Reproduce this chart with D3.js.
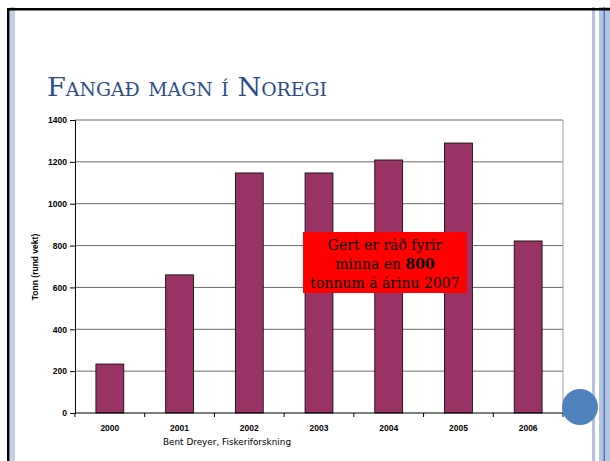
<!DOCTYPE html>
<html><head><meta charset="utf-8">
<script src="https://cdn.jsdelivr.net/npm/d3@7"></script>
<style>body{margin:0;background:#fff;}svg{display:block;}</style>
</head><body>
<script>
const years = ["2000","2001","2002","2003","2004","2005","2006"];
const catch_t = [234, 660, 1147, 1147, 1209, 1290, 822];
const yTicks = [0,200,400,600,800,1000,1200,1400];

const W=610,H=461;
const svg=d3.select("body").append("svg").attr("width",W).attr("height",H);

// slide frame
svg.append("rect").attr("x",10).attr("y",7).attr("width",5).attr("height",H).attr("fill","#c5d0e6");
svg.append("rect").attr("x",592).attr("y",7).attr("width",3).attr("height",H).attr("fill","#b4c3df");
svg.append("rect").attr("x",599).attr("y",7).attr("width",11).attr("height",H).attr("fill","#b4c3df");
svg.append("rect").attr("x",603.5).attr("y",7).attr("width",1.5).attr("height",H).attr("fill","#4a7cc4");
svg.append("rect").attr("x",7).attr("y",8).attr("width",603).attr("height",2.5).attr("fill","#000");
svg.append("rect").attr("x",7).attr("y",8).attr("width",2.5).attr("height",H).attr("fill","#000");

// title
svg.append("text").attr("x",47).attr("y",96)
  .attr("font-family","DejaVu Serif").attr("font-size",26)
  .style("font-variant","small-caps").attr("fill","#2c4c8c")
  .attr("textLength",280).attr("lengthAdjust","spacingAndGlyphs")
  .text("Fangað magn í Noregi");

const x0=75,x1=563,yTop=120,yBot=413;
const x=d3.scaleBand().domain(years).range([x0,x1]).paddingInner(0.6).paddingOuter(0.3);
const y=d3.scaleLinear().domain([0,1400]).range([yBot,yTop]);

// grid
svg.append("g").selectAll("line").data(yTicks.filter(d=>d>0)).join("line")
  .attr("x1",x0).attr("x2",x1).attr("y1",d=>y(d)).attr("y2",d=>y(d))
  .attr("stroke","#6a6a6a").attr("stroke-width",1);
svg.append("line").attr("x1",x1).attr("x2",x1).attr("y1",yTop).attr("y2",yBot).attr("stroke","#a0a0a0");

// bars
svg.append("g").selectAll("rect").data(years).join("rect")
  .attr("x",d=>x(d)).attr("width",x.bandwidth())
  .attr("y",(d,i)=>y(catch_t[i])).attr("height",(d,i)=>yBot-y(catch_t[i]))
  .attr("fill","#993366").attr("stroke","#000").attr("stroke-width",0.8);

// y axis
const ya=svg.append("g").attr("transform",`translate(${x0},0)`)
  .call(d3.axisLeft(y).tickValues(yTicks).tickSize(5).tickPadding(3).tickFormat(d3.format("d")));
ya.select(".domain").attr("stroke","#000");
ya.selectAll("text").attr("font-family","Liberation Sans, Arial").attr("font-size",8.5).attr("font-weight","bold").attr("fill","#000");

// x axis
const step=(x1-x0)/years.length;
const xa=svg.append("g").attr("transform",`translate(0,${yBot})`);
xa.append("line").attr("x1",x0).attr("x2",x1).attr("stroke","#000").attr("stroke-width",1.2);
xa.selectAll("line.t").data(d3.range(years.length+1)).join("line").attr("class","t")
  .attr("x1",i=>x0+i*step).attr("x2",i=>x0+i*step).attr("y1",0).attr("y2",4).attr("stroke","#000");
xa.selectAll("text").data(years).join("text")
  .attr("x",d=>x(d)+x.bandwidth()/2).attr("y",18).attr("text-anchor","middle")
  .attr("font-family","Liberation Sans, Arial").attr("font-size",8.5).attr("font-weight","bold").text(d=>d);

// y label
svg.append("text").attr("transform","translate(38,267) rotate(-90)").attr("text-anchor","middle")
  .attr("font-family","Liberation Sans, Arial").attr("font-size",8.5).attr("font-weight","bold")
  .text("Tonn (rund vekt)");

// source
svg.append("text").attr("x",163).attr("y",445).attr("font-family","DejaVu Sans").attr("font-size",8.5)
  .attr("textLength",128).attr("lengthAdjust","spacingAndGlyphs")
  .text("Bent Dreyer, Fiskeriforskning");

// annotation
svg.append("rect").attr("x",303).attr("y",232).attr("width",164).attr("height",61).attr("fill","#ff0000");
const ann=svg.append("text").attr("text-anchor","middle").attr("font-family","DejaVu Serif").attr("font-size",14);
ann.append("tspan").attr("x",385).attr("y",250).text("Gert er ráð fyrir");
const t2=ann.append("tspan").attr("x",385).attr("y",269);
t2.append("tspan").text("minna en ");
t2.append("tspan").attr("font-weight","bold").text("800");
ann.append("tspan").attr("x",385).attr("y",288).text("tonnum á árinu 2007");

// circle
svg.append("circle").attr("cx",580).attr("cy",407).attr("r",18).attr("fill","#4f81bd");
</script>
</body></html>
